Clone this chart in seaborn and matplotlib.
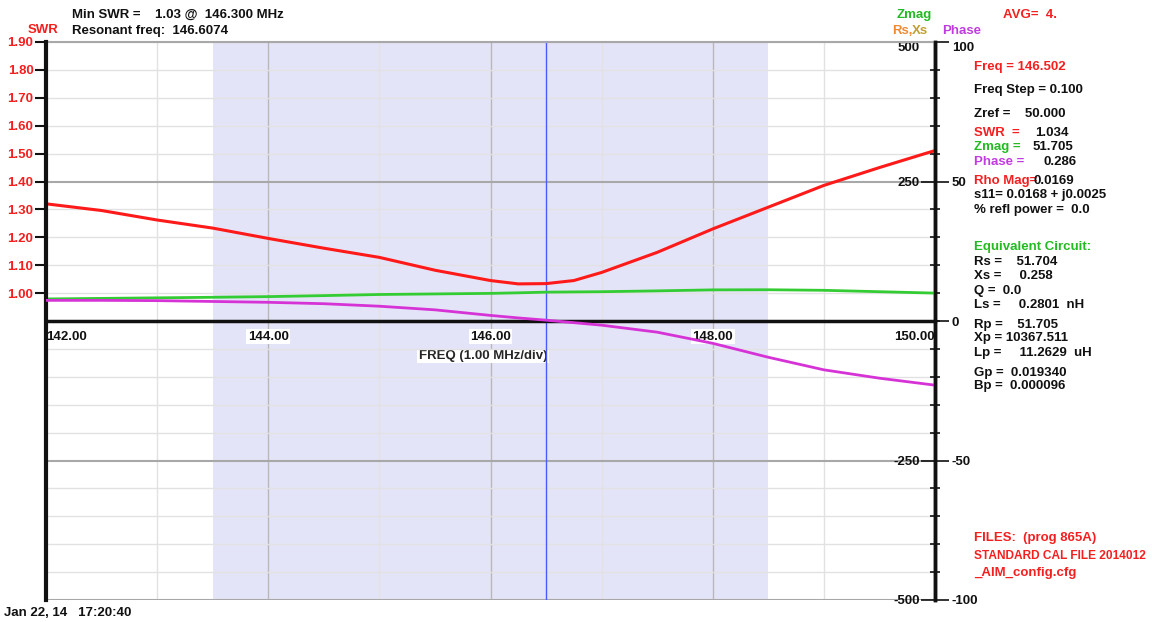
import numpy as np
import pandas as pd
import matplotlib
matplotlib.use("Agg")
import matplotlib.pyplot as plt
import seaborn as sns
from matplotlib.ticker import FixedLocator, MultipleLocator, FixedFormatter

# ---------------- data ----------------
freq = [142.0, 142.5, 143.0, 143.5, 144.0, 144.5, 145.0, 145.5, 146.0, 146.25,
        146.5, 146.75, 147.0, 147.5, 148.0, 148.5, 149.0, 149.5, 150.0]
swr = [1.32, 1.296, 1.262, 1.233, 1.196, 1.161, 1.128, 1.082, 1.045, 1.033,
       1.034, 1.045, 1.074, 1.146, 1.230, 1.308, 1.386, 1.450, 1.511]
zmag = [39.5, 40.5, 41.5, 42.5, 43.7, 45.5, 47.5, 48.5, 49.5, 50.5,
        51.7, 52.1, 52.5, 54.0, 55.8, 56.0, 55.0, 52.5, 50.0]
phase = [7.4, 7.4, 7.3, 7.0, 6.7, 6.2, 5.3, 4.0, 2.0, 1.1,
         0.3, -0.6, -1.5, -4.0, -8.0, -13.0, -17.5, -20.5, -23.0]

swr_ticks = [1.00, 1.10, 1.20, 1.30, 1.40, 1.50, 1.60, 1.70, 1.80, 1.90]
swr_labels = ["1.00", "1.10", "1.20", "1.30", "1.40", "1.50", "1.60", "1.70", "1.80", "1.90"]
zmag_ticks = [-500, -250, 250, 500]
zmag_labels = ["-500", "-250", "250", "500"]
phase_ticks = [-100, -50, 0, 50, 100]
phase_labels = ["-100", "-50", "0", "50", "100"]
freq_ticks = [142, 144, 146, 148, 150]
freq_labels = ["142.00", "144.00", "146.00", "148.00", "150.00"]
marker_freq = 146.502
span_lo, span_hi = 143.5, 148.5

df = pd.DataFrame({"freq": freq, "swr": swr, "zmag": zmag, "phase": phase})

# ---------------- style ----------------
sns.set_style("white")
plt.rcParams["font.family"] = ["Liberation Sans", "DejaVu Sans"]
plt.rcParams["font.weight"] = "bold"

RED = "#f42020"
GREEN = "#22bb22"
PURPLE = "#c03ce0"
FS = 9.5

W, H = 1152, 622
fig = plt.figure(figsize=(W / 100, H / 100), dpi=100)
L, R, T, B = 46, 935, 42, 600
ax_z = fig.add_axes([L / W, 1 - B / H, (R - L) / W, (B - T) / H])
ax_s = ax_z.twinx()
ax_p = ax_z.twinx()

ax_z.set_xlim(142, 150)
ax_z.set_ylim(-500, 500)
ax_s.set_ylim(-0.1, 1.9)
ax_p.set_ylim(-100, 100)

# background span and marker
ax_z.axvspan(span_lo, span_hi, color="#e4e4f8", lw=0, zorder=0.2)
ax_z.axvline(marker_freq, color="#4a5aff", lw=1, zorder=2)

# grid on the Zmag axis
ax_z.yaxis.set_major_locator(FixedLocator(zmag_ticks))
ax_z.yaxis.set_major_formatter(FixedFormatter(zmag_labels))
ax_z.yaxis.set_minor_locator(MultipleLocator(50))
ax_z.xaxis.set_major_locator(FixedLocator(freq_ticks))
ax_z.xaxis.set_major_formatter(FixedFormatter(freq_labels))
ax_z.xaxis.set_minor_locator(MultipleLocator(1))
ax_z.grid(True, which="minor", axis="y", color="#e2e2e2", lw=1)
ax_z.grid(True, which="major", axis="y", color="#a8a8a8", lw=1.5)
ax_z.grid(True, which="major", axis="x", color="#b8b8b8", lw=1)
ax_z.grid(True, which="minor", axis="x", color="#e2e2e2", lw=1)

# spines of Zmag axis
ax_z.spines["right"].set_visible(False)
ax_z.spines["left"].set_position(("axes", 1.0))
ax_z.spines["left"].set_color("#111111")
ax_z.spines["left"].set_linewidth(2.5)
ax_z.spines["top"].set_color("#a8a8a8")
ax_z.spines["top"].set_linewidth(1.5)
ax_z.spines["bottom"].set_position(("data", 0))
ax_z.spines["bottom"].set_color("#111111")
ax_z.spines["bottom"].set_linewidth(2.5)
ax_z.spines["bottom"].set_linestyle((0, (2, 1)))
ax_z.yaxis.set_ticks_position("left")
ax_z.tick_params(axis="y", which="major", direction="out", length=10, width=1.2,
                 labelsize=FS, pad=1, colors="#111111")
ax_z.tick_params(axis="y", which="minor", direction="inout", length=7, width=1.2,
                 colors="#111111")
ax_z.tick_params(axis="x", which="major", direction="inout", length=8, width=2,
                 labelsize=FS, pad=3, colors="#111111")
ax_z.tick_params(axis="x", which="minor", direction="inout", length=5, width=1.5,
                 colors="#111111")

# SWR axis (left)
for s in ["right", "top", "bottom"]:
    ax_s.spines[s].set_visible(False)
ax_s.spines["left"].set_visible(True)
ax_s.spines["left"].set_color("#111111")
ax_s.spines["left"].set_linewidth(3)
ax_s.yaxis.set_ticks_position("left")
ax_s.set_yticks(swr_ticks)
ax_s.set_yticklabels(swr_labels)
ax_s.tick_params(axis="y", direction="out", length=8, width=1.5, labelsize=FS,
                 pad=1, color="#111111", labelcolor=RED)

# Phase axis (right)
for s in ["left", "top", "bottom"]:
    ax_p.spines[s].set_visible(False)
ax_p.spines["right"].set_color("#111111")
ax_p.spines["right"].set_linewidth(2.5)
ax_p.set_yticks(phase_ticks)
ax_p.set_yticklabels(phase_labels)
ax_p.tick_params(axis="y", direction="out", length=10, width=1.2, labelsize=FS,
                 pad=2, colors="#111111")

# curves
sns.lineplot(data=df, x="freq", y="zmag", ax=ax_z, color="#33cc33", lw=2, zorder=3)
sns.lineplot(data=df, x="freq", y="swr", ax=ax_s, color="#ff1a1a", lw=2.2)
sns.lineplot(data=df, x="freq", y="phase", ax=ax_p, color="#d633d6", lw=2)
ax_s.set_ylabel("")
ax_p.set_ylabel("")
ax_z.set_ylabel("")

ax_z.set_xlabel("FREQ (1.00 MHz/div)", fontsize=FS, fontweight="bold",
                bbox=dict(facecolor="white", edgecolor="none", pad=1))
ax_z.xaxis.set_label_coords((483 - L) / (R - L), (B - 350) / (B - T))

xl = ax_z.get_xticklabels()
for lbl in xl:
    lbl.set_fontweight("bold")
    lbl.set_bbox(dict(facecolor="white", edgecolor="none", pad=1))
xl[0].set_horizontalalignment("left")
xl[-1].set_horizontalalignment("right")

# top labels on the right axes sit just below the frame edge
for lbl in ax_z.get_yticklabels():
    if lbl.get_text() == "500":
        lbl.set_verticalalignment("top")
for lbl in ax_p.get_yticklabels():
    if lbl.get_text() == "100":
        lbl.set_verticalalignment("top")


# ---------------- annotation texts ----------------
def t(x, y, s, color="#111111", size=FS, ha="left"):
    fig.text(x / W, 1 - y / H, s, color=color, fontsize=size, fontweight="bold",
             ha=ha, va="center")


t(72, 15, "Min SWR =    1.03 @  146.300 MHz")
t(72, 31, "Resonant freq:  146.6074")
t(28, 30, "SWR", RED)
t(897, 15, "Zmag", GREEN)
t(892, 31, "Rs,", "#f08a30")
t(912, 31, "Xs", "#c0a030")
t(942, 31, "Phase", PURPLE)
t(1003, 15, "AVG=  4.", RED)

X0 = 974
t(X0, 67, "Freq = 146.502", RED)
t(X0, 90, "Freq Step = 0.100")
t(X0, 114, "Zref =    50.000")
t(X0, 133, "SWR  =", RED)
t(1035, 133, "1.034")
t(X0, 147, "Zmag =", GREEN)
t(1033, 147, "51.705")
t(X0, 162, "Phase =", PURPLE)
t(1043, 162, "0.286")
t(X0, 181, "Rho Mag=", RED)
t(1034, 181, "0.0169")
t(X0, 195, "s11= 0.0168 + j0.0025")
t(X0, 210, "% refl power =  0.0")
t(X0, 247, "Equivalent Circuit:", GREEN)
t(X0, 262, "Rs =    51.704")
t(X0, 276, "Xs =     0.258")
t(X0, 291, "Q =  0.0")
t(X0, 305, "Ls =     0.2801  nH")
t(X0, 325, "Rp =    51.705")
t(X0, 338, "Xp = 10367.511")
t(X0, 353, "Lp =     11.2629  uH")
t(X0, 373, "Gp =  0.019340")
t(X0, 386, "Bp =  0.000096")
t(X0, 538, "FILES:  (prog 865A)", RED)
t(X0, 556, "STANDARD CAL FILE 2014012", RED, size=8.6)
t(X0, 573, "_AIM_config.cfg", RED)
t(4, 613, "Jan 22, 14   17:20:40")

fig.savefig("out.png", dpi=100)
